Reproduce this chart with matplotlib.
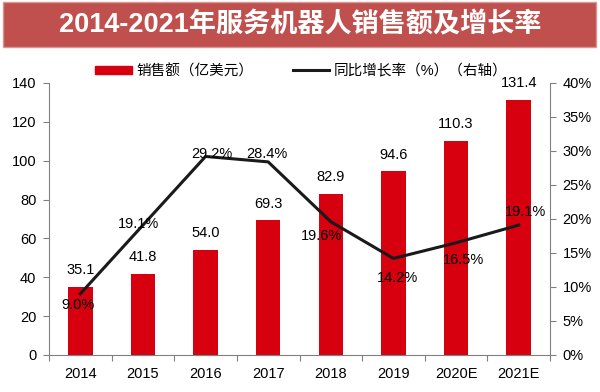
import matplotlib
matplotlib.use('Agg')
import matplotlib.pyplot as plt
from matplotlib.patches import Rectangle
from matplotlib.lines import Line2D
import numpy as np

plt.rcParams['font.family'] = ['Liberation Sans', 'Noto Sans CJK SC']

years = ['2014', '2015', '2016', '2017', '2018', '2019', '2020E', '2021E']
sales = [35.1, 41.8, 54.0, 69.3, 82.9, 94.6, 110.3, 131.4]
growth = [9.0, 19.1, 29.2, 28.4, 19.6, 14.2, 16.5, 19.1]
# where each growth label sits relative to its point, in points (dx, dy)
growth_off = [(-1.5, -8), (-3.5, 0.7), (4.3, 1.5), (-0.7, 5.8),
              (-7, -10), (3, -14.4), (5, -12.2), (5, 9.4)]

fig = plt.figure(figsize=(6, 3.92), dpi=100)
fig.patch.set_facecolor('white')

# title banner
fig.patches.append(Rectangle((3 / 600, 1 - 47 / 392), 593 / 600, 45 / 392,
                             transform=fig.transFigure,
                             facecolor='#C0504D', edgecolor='#D99694', lw=1))
fig.text(0.5, 1 - 25 / 392, '2014-2021年服务机器人销售额及增长率', color='white',
         fontsize=19.5, fontweight='bold', ha='center', va='center')

ax = fig.add_axes([49 / 600, 37 / 392, 501 / 600, 272 / 392])
x = np.arange(len(years))
ax.bar(x, sales, width=0.39, color='#D7000F')
ax.set_ylim(0, 140)
ax.set_xlim(-0.5, len(years) - 0.5)
ax.set_yticks(range(0, 141, 20))
ax.set_xticks(np.arange(-0.5, len(years), 1))
ax.set_xticklabels([])
ax.set_xticks(x, minor=True)
ax.set_xticklabels(years, minor=True)
ax.tick_params(axis='x', which='minor', length=0, pad=9, labelsize=10.5)
ax.tick_params(axis='x', which='major', length=4, direction='out', color='#808080')
ax.tick_params(axis='y', labelsize=10.5, length=4, color='#808080', pad=5)
for s in ['top', 'right']:
    ax.spines[s].set_visible(False)
for s in ['left', 'bottom']:
    ax.spines[s].set_color('#808080')

for xi, v in zip(x, sales):
    ax.annotate(f'{v:.1f}', (xi, v), xytext=(0, 12), textcoords='offset points',
                ha='center', va='center', fontsize=10.5)

ax2 = ax.twinx()
ax2.plot(x, growth, color='#1a1a1a', lw=2.2)
ax2.set_ylim(0, 40)
ax2.set_yticks(range(0, 41, 5))
ax2.set_yticklabels([f'{t}%' for t in range(0, 41, 5)])
ax2.tick_params(axis='y', labelsize=10.5, length=4, color='#808080', pad=5)
for s in ['top', 'left', 'bottom']:
    ax2.spines[s].set_visible(False)
ax2.spines['right'].set_color('#808080')

for xi, v, (dx, dy) in zip(x, growth, growth_off):
    ax2.annotate(f'{v:.1f}%', (xi, v), xytext=(dx, dy), textcoords='offset points',
                 ha='center', va='center', fontsize=10.5)

handles = [Rectangle((0, 0), 1, 1, color='#D7000F'),
           Line2D([0], [0], color='#1a1a1a', lw=2.2)]
fig.legend(handles, ['销售额（亿美元）', '同比增长率（%）（右轴）'], loc='center',
           bbox_to_anchor=(0.502, 1 - 71 / 392), ncol=2, frameon=False,
           handlelength=2.5, handleheight=0.5, handletextpad=0.3, columnspacing=2.7,
           prop={'size': 10.5})

fig.savefig('out.png', dpi=100)
